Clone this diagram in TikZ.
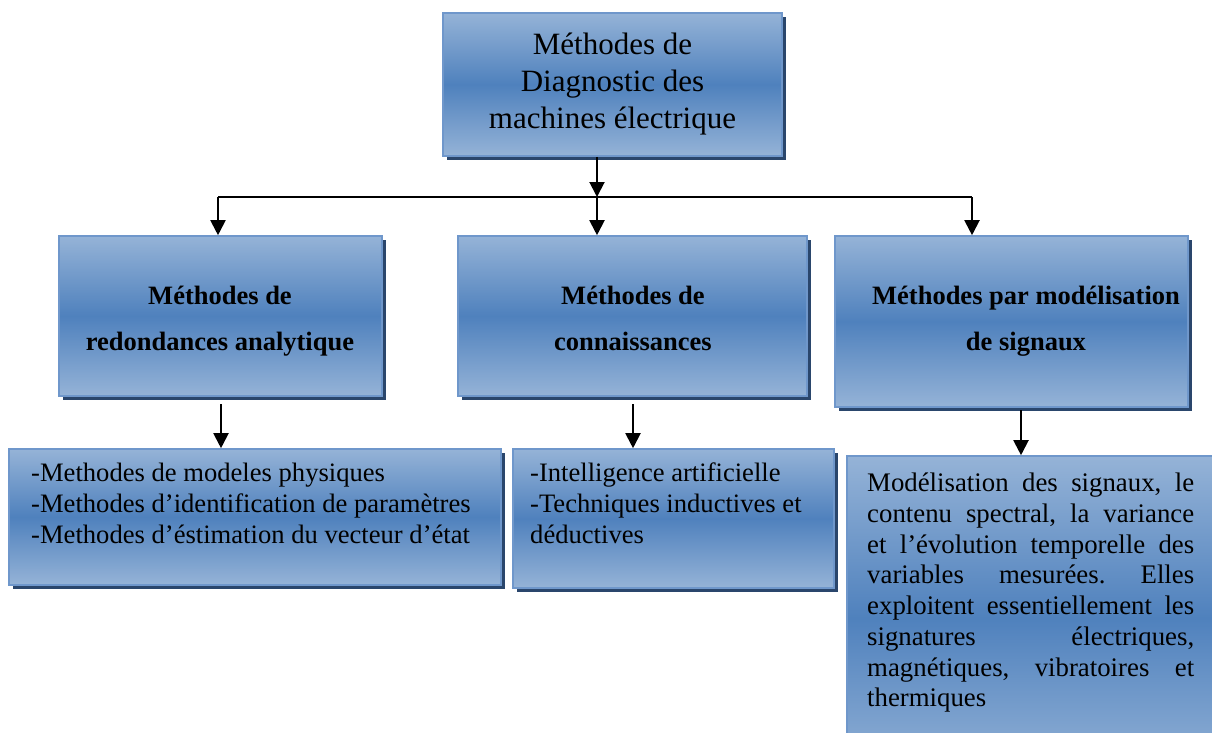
\documentclass[tikz,border=0pt]{standalone}
\usepackage{fontspec}
\setmainfont{Liberation Serif}
\usetikzlibrary{arrows.meta,shadows}
\definecolor{lightb}{HTML}{95B3D7}
\definecolor{darkb}{HTML}{4F81BD}
\definecolor{edgeb}{HTML}{6F97CB}
\definecolor{shadowc}{HTML}{2A466C}
\hyphenpenalty=10000
\exhyphenpenalty=10000
\tolerance=10000
\frenchspacing
\tikzset{
  box/.style={draw=edgeb, line width=1.6pt, top color=lightb, bottom color=lightb, middle color=darkb,
    drop shadow={shadow xshift=4pt, shadow yshift=-4pt, fill=shadowc, opacity=1}, inner sep=0pt},
  conn/.style={line width=2pt, -{Triangle[length=15pt,width=15pt]}},
  hline/.style={line width=1.5pt},
  txt/.style={inner sep=0pt, text=black}
}
\begin{document}
\begin{tikzpicture}[x=1pt,y=-1pt]
\useasboundingbox (0,0) rectangle (1212,733);
\clip (0,0) rectangle (1212,733);
% boxes
\node[box, minimum width=339pt, minimum height=143pt] (top) at (612.5,84.5) {};
\node[box, minimum width=323pt, minimum height=160pt] (b1) at (220.5,316) {};
\node[box, minimum width=349pt, minimum height=160pt] (b2) at (632.5,316) {};
\node[box, minimum width=353pt, minimum height=171pt] (b3) at (1011.5,321.5) {};
\node[box, minimum width=492pt, minimum height=136pt] (bl) at (255,517) {};
\node[box, minimum width=321pt, minimum height=139pt] (bm) at (673.5,518.5) {};
\node[box, minimum width=393pt, minimum height=324pt] (br) at (1043.5,618) {};
% texts
\node[txt, anchor=north, align=center, font=\fontsize{31}{37.3}\selectfont] (ttop) at (612.5,27.9)
  {\strut Méthodes de\\Diagnostic des\\machines électrique};
\node[txt, anchor=north, align=center, font=\bfseries\fontsize{26.5}{46}\selectfont] (t1) at (220,271.8)
  {\strut Méthodes de\\redondances analytique};
\node[txt, anchor=north, align=center, font=\bfseries\fontsize{26.5}{46}\selectfont] (t2) at (633,271.8)
  {\strut Méthodes de\\connaissances};
\node[txt, anchor=north, align=center, font=\bfseries\fontsize{26.5}{46}\selectfont] (t3) at (1026,271.8)
  {\strut Méthodes par modélisation\\de signaux};
\node[txt, anchor=north west, align=left, font=\fontsize{26.6}{31}\selectfont] (tl) at (31,459.3)
  {\strut -Methodes de modeles physiques\\-Methodes d’identification de paramètres\\-Methodes d’éstimation du vecteur d’état};
\node[txt, anchor=north west, align=left, font=\fontsize{26.6}{31}\selectfont] (tm) at (530,459.3)
  {\strut -Intelligence artificielle\\-Techniques inductives et\\déductives};
\node[txt, anchor=north west, text width=327pt, align=justify, font=\fontsize{26.8}{30.7}\selectfont] (tr) at (867,470.2)
  {\strut Modélisation des signaux, le\linebreak{} contenu spectral, la variance\linebreak{} et l’évolution temporelle des\linebreak{} variables mesurées. Elles\linebreak{} exploitent essentiellement les\linebreak{} signatures électriques,\linebreak{} magnétiques, vibratoires et\linebreak{} thermiques};
% connectors
\coordinate (j0) at (597,197);
\coordinate (jl) at (218,197);
\coordinate (jr) at (972,197);
\draw[conn] (top.south -| j0) -- (j0);
\draw[hline] (jl) -- (jr);
\draw[conn] (jl) -- (jl |- b1.north);
\draw[conn] (j0) -- (j0 |- b2.north);
\draw[conn] (jr) -- (jr |- b3.north);
\coordinate (d1) at (221,404);
\coordinate (d2) at (633,404);
\coordinate (d3) at (1021,410);
\draw[conn] (d1) -- (d1 |- bl.north);
\draw[conn] (d2) -- (d2 |- bm.north);
\draw[conn] (d3) -- (d3 |- br.north);
\end{tikzpicture}
\end{document}
